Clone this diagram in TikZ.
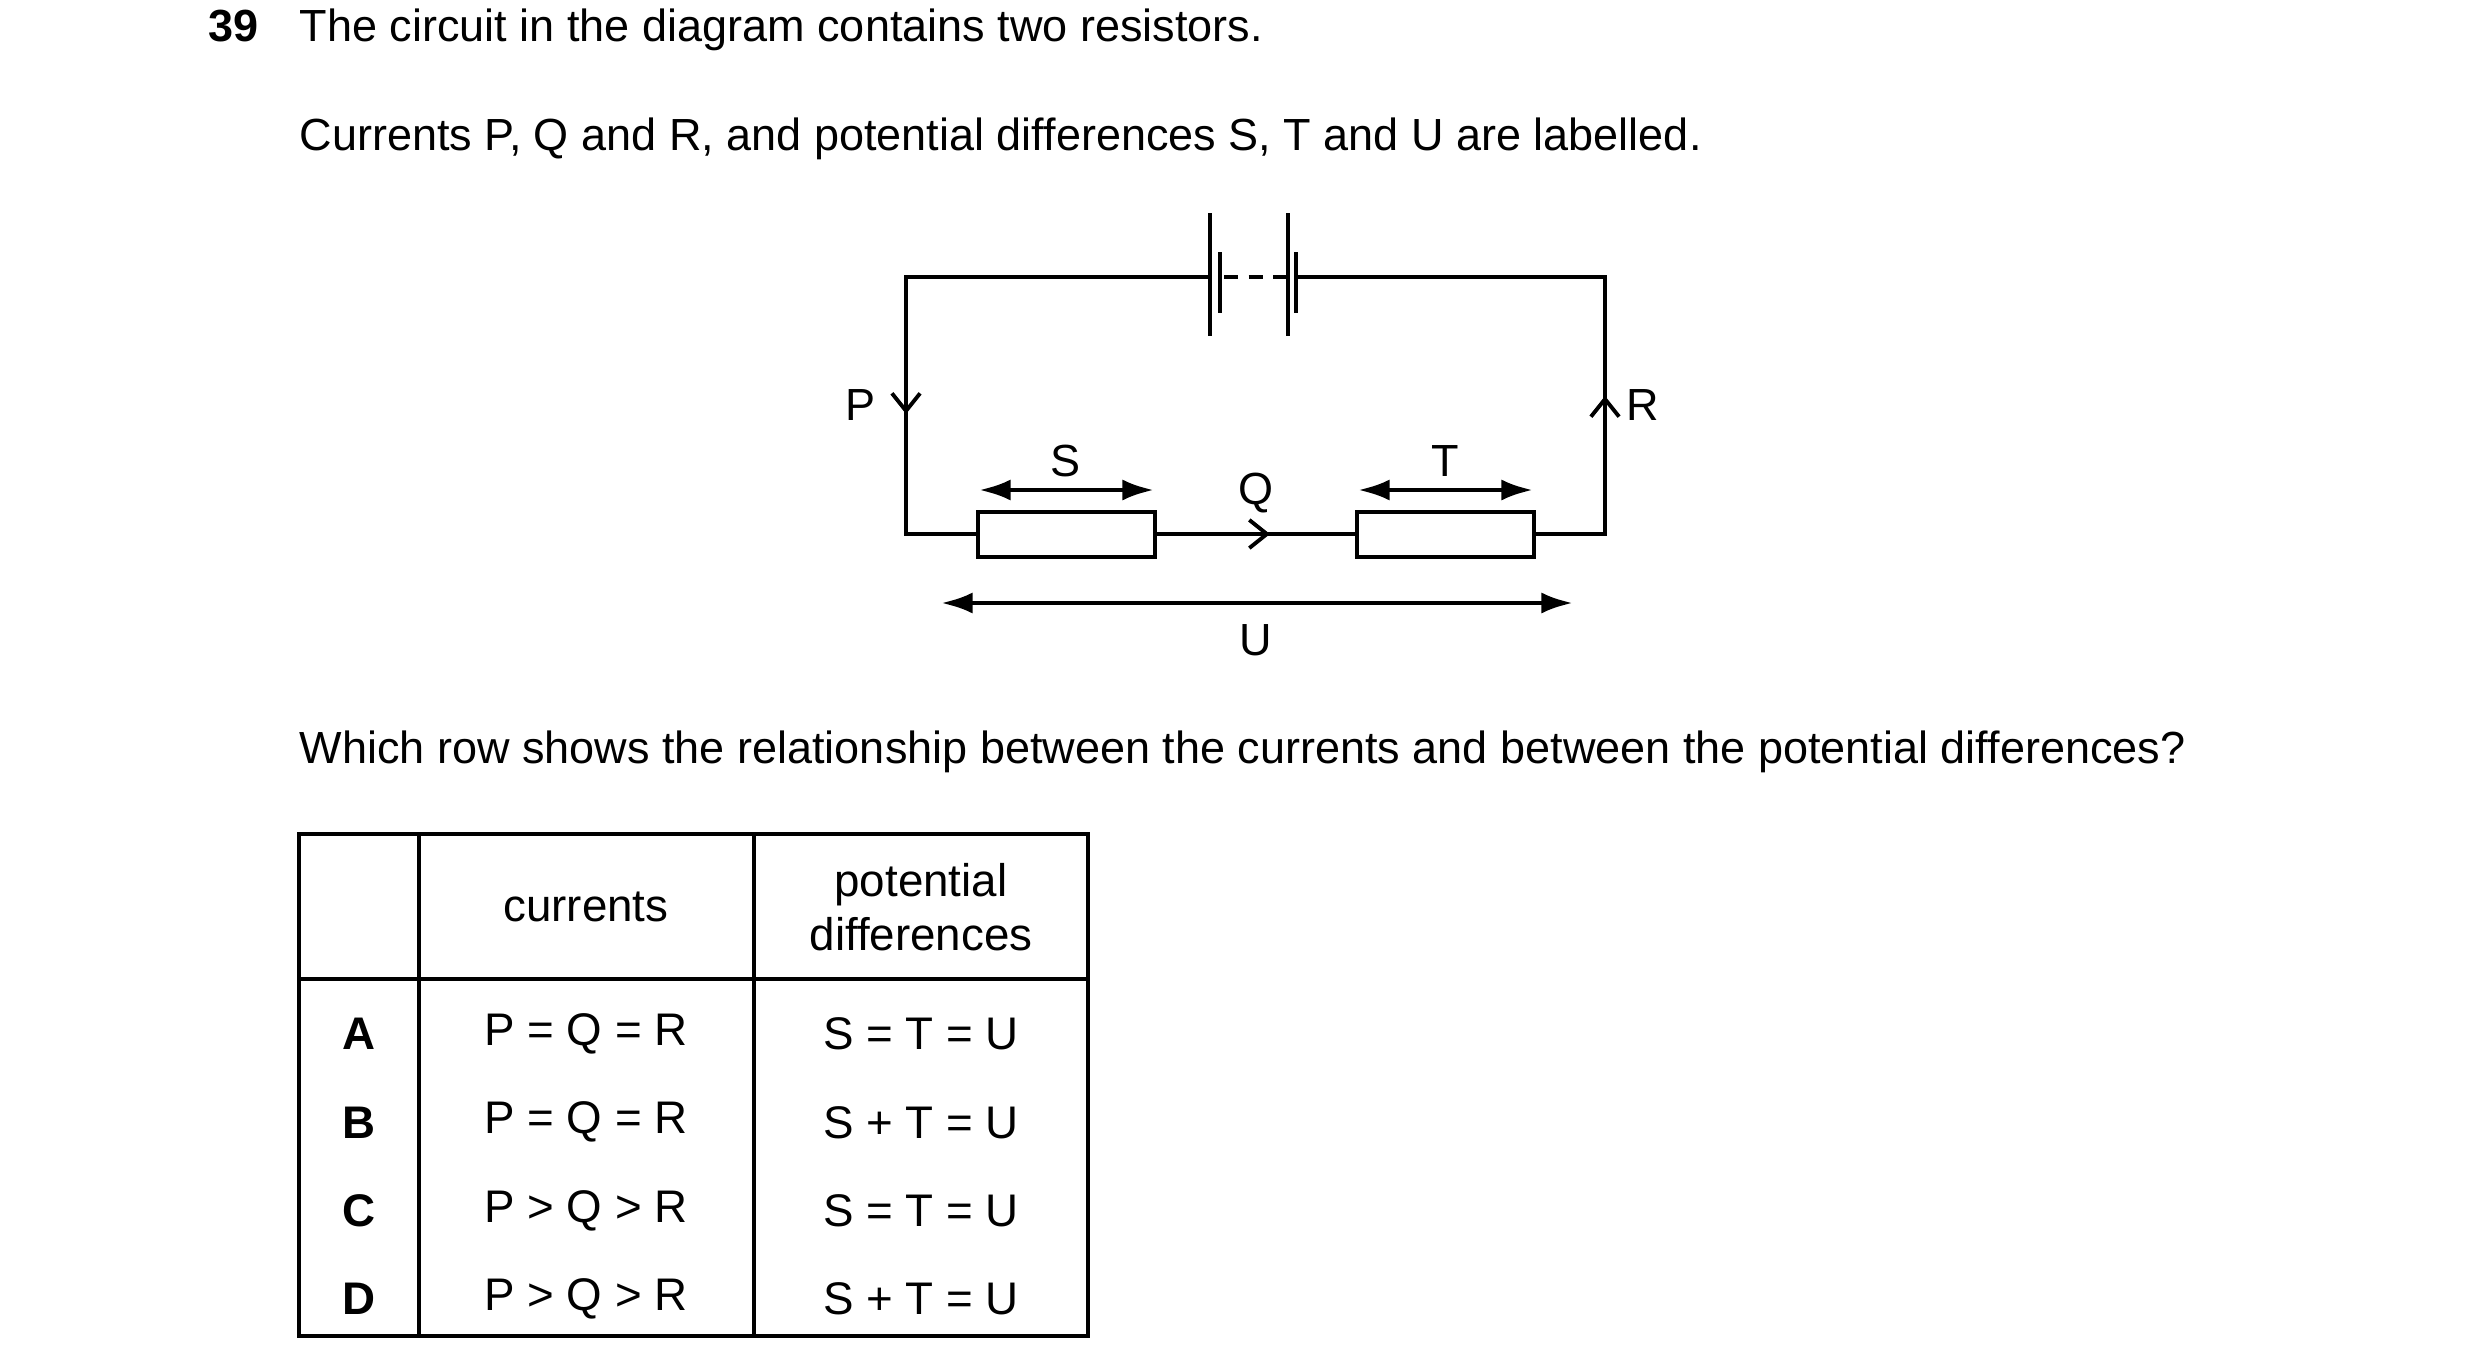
\documentclass[tikz,border=0pt]{standalone}
\usepackage{fontspec}
\setmainfont{Liberation Sans}
\usetikzlibrary{arrows.meta}
\begin{document}
\begin{tikzpicture}[x=0.01cm,y=-0.01cm,
  txt/.style={font=\fontsize{12.8}{15}\selectfont,inner sep=0pt},
  ttxt/.style={font=\fontsize{13}{15.5}\selectfont,inner sep=0pt},
  wire/.style={line width=1.3pt},
  dim/.style={line width=1.3pt,{Latex[length=9pt,width=6pt]}-{Latex[length=9pt,width=6pt]}},
  cur/.style={line width=1.1pt,-{Straight Barb[length=5pt,width=8pt]}},
  tab/.style={line width=0.9pt}]
\useasboundingbox (0,0) rectangle (2480,1360);
% text
\node[txt,anchor=base west,font=\fontsize{12.8}{15}\bfseries] (num) at (208,41) {39};
\node[txt,anchor=base west] (l1) at (299,41) {The circuit in the diagram contains two resistors.};
\node[txt,anchor=base west] (l2) at (299,150) {Currents P, Q and R, and potential differences S, T and U are labelled.};
\node[txt,anchor=base west] (l3) at (299,763) {Which row shows the relationship between the currents and between the potential differences?};
% circuit
\coordinate (tl) at (906,277); \coordinate (tr) at (1605,277);
\coordinate (bl) at (906,534); \coordinate (br) at (1605,534);
\coordinate (b1) at (1210,277); \coordinate (b2) at (1296,277);
\draw[wire] (b1) -- (tl) -- (bl) -- (978,534);
\draw[wire] (b2) -- (tr) -- (br) -- (1534,534);
\draw[wire] (1155,534) -- (1357,534);
\draw[wire] (978,512) rectangle (1155,557);
\draw[wire] (1357,512) rectangle (1534,557);
% battery
\draw[wire] (1210,213) -- (1210,336);
\draw[wire] (1220,252) -- (1220,313);
\draw[wire] (1288,213) -- (1288,336);
\draw[wire] (1296,252) -- (1296,313);
\draw[wire,dash pattern=on 4pt off 3pt] (1224,277) -- (1286,277);
% current arrows
\draw[cur] (906,390) -- (906,414);
\draw[cur] (1605,420) -- (1605,396);
\draw[cur] (1240,534) -- (1270,534);
\node[txt] (P) at (861,405) {P};
\node[txt] (R) at (1643,405) {R};
\node[txt] (Q) at (1256,493) {Q};
% voltages
\draw[dim] (979,490) -- (1154,490);
\draw[dim] (1358,490) -- (1533,490);
\draw[dim] (941,603) -- (1573,603);
\node[txt] (Sl) at (1066,461) {S};
\node[txt] (Tl) at (1445,461) {T};
\node[txt] (Ul) at (1256,640) {U};
% table
\draw[tab] (299,834) rectangle (1088,1336);
\draw[tab] (299,979) -- (1088,979);
\draw[tab] (419,834) -- (419,1336);
\draw[tab] (754,834) -- (754,1336);
\node[ttxt] (hc) at (586,907) {currents};
\node[ttxt,align=center] (hp) at (921,907) {potential\\differences};
\foreach \L/\C/\V [count=\i] in {A/{P = Q = R}/{S = T = U},B/{P = Q = R}/{S + T = U},C/{P > Q > R}/{S = T = U},D/{P > Q > R}/{S + T = U}}{
  \pgfmathsetmacro\yy{1034+(\i-1)*88.3}
  \node[ttxt,font=\fontsize{13}{15}\bfseries] (r\i) at (359,\yy) {\L};
  \node[ttxt] (c\i) at (586,\yy) {\C};
  \node[ttxt] (v\i) at (921,\yy) {\V};
}
\end{tikzpicture}
\end{document}
